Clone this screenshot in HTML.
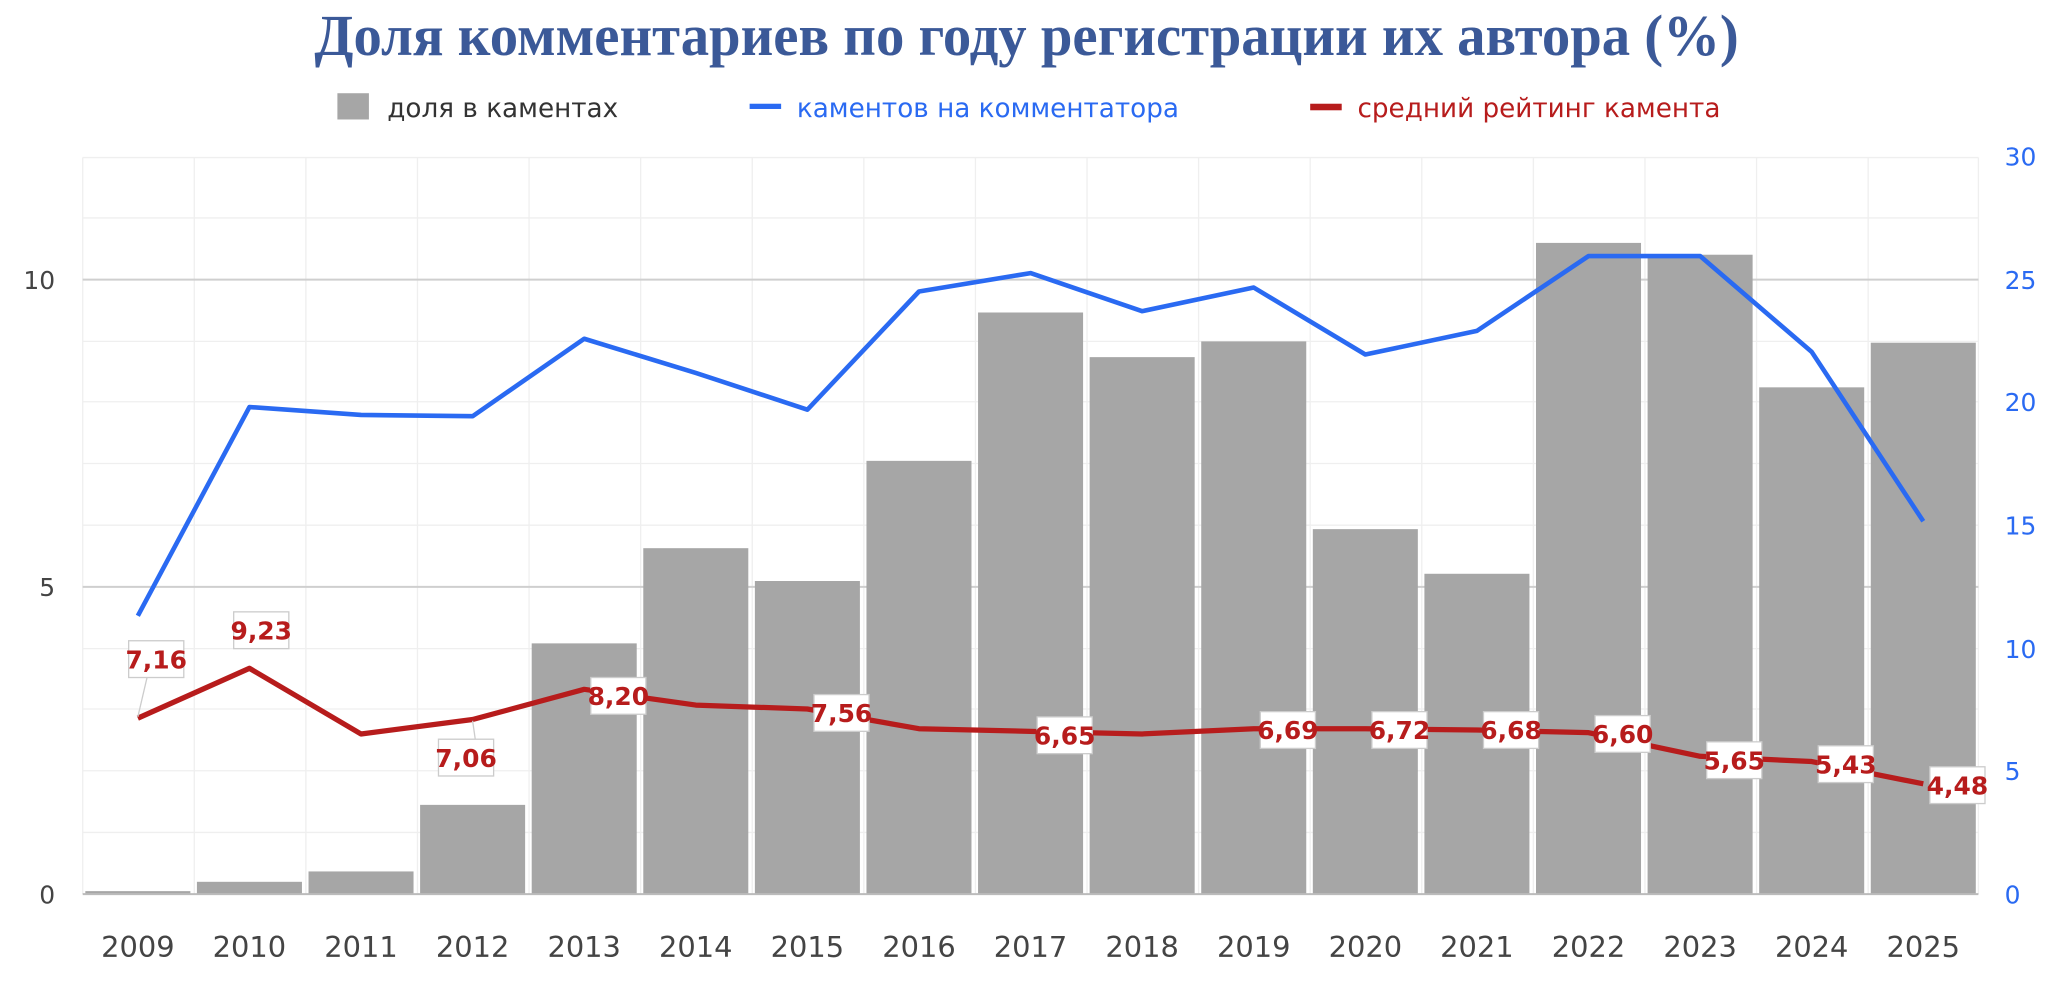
<!DOCTYPE html>
<html><head><meta charset="utf-8"><style>
html,body{margin:0;padding:0;background:#fff;}
svg{display:block;}
text{font-family:"DejaVu Sans","Liberation Sans",sans-serif;}
</style></head><body>
<svg width="2048" height="990" viewBox="0 0 1560 754" preserveAspectRatio="none" xmlns="http://www.w3.org/2000/svg">
<text x="782" y="42" text-anchor="middle" font-size="44" font-weight="bold" fill="#3b5998" textLength="1085" lengthAdjust="spacingAndGlyphs" style="font-family:'Liberation Serif',serif">Доля комментариев по году регистрации их автора (%)</text>
<rect x="257" y="71" width="24" height="20" fill="#a6a6a6"/>
<text x="295" y="89" font-size="20" fill="#333">доля в каментах</text>
<rect x="571" y="79" width="24" height="4" fill="#2a6af2"/>
<text x="607" y="89" font-size="20" fill="#2a6af2">каментов на комментатора</text>
<rect x="998" y="79" width="24" height="5" fill="#b71c1c"/>
<text x="1034" y="89" font-size="20" fill="#b71c1c">средний рейтинг камента</text>
<g stroke="#efefef" stroke-width="1">
<line x1="63" x2="1507" y1="120" y2="120"/><line x1="63" x2="1507" y1="166" y2="166"/>
<line x1="63" x2="1507" y1="260" y2="260"/><line x1="63" x2="1507" y1="306" y2="306"/>
<line x1="63" x2="1507" y1="353" y2="353"/><line x1="63" x2="1507" y1="400" y2="400"/>
<line x1="63" x2="1507" y1="494" y2="494"/><line x1="63" x2="1507" y1="540" y2="540"/>
<line x1="63" x2="1507" y1="587" y2="587"/><line x1="63" x2="1507" y1="634" y2="634"/>
<line x1="63" y1="120" x2="63" y2="681"/><line x1="148" y1="120" x2="148" y2="681"/><line x1="233" y1="120" x2="233" y2="681"/><line x1="318" y1="120" x2="318" y2="681"/><line x1="403" y1="120" x2="403" y2="681"/><line x1="488" y1="120" x2="488" y2="681"/><line x1="573" y1="120" x2="573" y2="681"/><line x1="658" y1="120" x2="658" y2="681"/><line x1="743" y1="120" x2="743" y2="681"/><line x1="828" y1="120" x2="828" y2="681"/><line x1="913" y1="120" x2="913" y2="681"/><line x1="998" y1="120" x2="998" y2="681"/><line x1="1083" y1="120" x2="1083" y2="681"/><line x1="1168" y1="120" x2="1168" y2="681"/><line x1="1253" y1="120" x2="1253" y2="681"/><line x1="1338" y1="120" x2="1338" y2="681"/><line x1="1423" y1="120" x2="1423" y2="681"/><line x1="1507" y1="120" x2="1507" y2="681"/>
</g>
<g stroke="#cfcfcf" stroke-width="1.5"><line x1="63" x2="1507" y1="213" y2="213"/><line x1="63" x2="1507" y1="447" y2="447"/></g>
<g fill="#a6a6a6">
<rect x="65" y="678.7" width="80" height="2.3"/>
<rect x="150" y="671.6" width="80" height="9.4"/>
<rect x="235" y="663.7" width="80" height="17.3"/>
<rect x="320" y="613" width="80" height="68"/>
<rect x="405" y="490" width="80" height="191"/>
<rect x="490" y="417.5" width="80" height="263.5"/>
<rect x="575" y="442.5" width="80" height="238.5"/>
<rect x="660" y="351" width="80" height="330"/>
<rect x="745" y="238" width="80" height="443"/>
<rect x="830" y="272" width="80" height="409"/>
<rect x="915" y="260" width="80" height="421"/>
<rect x="1000" y="403" width="80" height="278"/>
<rect x="1085" y="437" width="80" height="244"/>
<rect x="1170" y="185" width="80" height="496"/>
<rect x="1255" y="194" width="80" height="487"/>
<rect x="1340" y="295" width="80" height="386"/>
<rect x="1425" y="261" width="80" height="420"/>
</g>
<line x1="63" x2="1507" y1="681" y2="681" stroke="#bbb" stroke-width="1.5"/>
<polyline fill="none" stroke="#2a6af2" stroke-width="3.5" stroke-linejoin="round" points="105,469 190,310 275,316 360,317 445,258 530,284 615,312 700,222 785,208 870,237 955,219 1040,270 1125,252 1210,195 1295,195 1380,268 1465,397"/>
<polyline fill="none" stroke="#b71c1c" stroke-width="4" stroke-linejoin="round" points="105,547 190,509 275,559 360,548 445,525 530,537 615,540 700,555 785,557 870,559 955,555 1040,555 1125,556 1210,558 1295,576 1380,580 1465,597"/>
<g font-size="19" font-weight="bold" fill="#b71c1c" text-anchor="middle" style="font-family:'Liberation Sans',sans-serif">
<rect x="98" y="488" width="42" height="28" fill="#fff" stroke="#ccc"/><line x1="112" y1="516" x2="105" y2="546" stroke="#ccc"/><text x="119" y="509">7,16</text>
<rect x="178" y="466" width="42" height="28" fill="#fff" stroke="#ccc"/><text x="199" y="487">9,23</text>
<rect x="334" y="563" width="42" height="28" fill="#fff" stroke="#ccc"/><line x1="362" y1="563" x2="360" y2="549" stroke="#ccc"/><text x="355" y="584">7,06</text>
<rect x="450" y="516" width="42" height="28" fill="#fff" stroke="#ccc"/><text x="471" y="537">8,20</text>
<rect x="620" y="529" width="42" height="28" fill="#fff" stroke="#ccc"/><text x="641" y="550">7,56</text>
<rect x="790" y="546" width="42" height="28" fill="#fff" stroke="#ccc"/><text x="811" y="567">6,65</text>
<rect x="960" y="542" width="42" height="28" fill="#fff" stroke="#ccc"/><text x="981" y="563">6,69</text>
<rect x="1045" y="542" width="42" height="28" fill="#fff" stroke="#ccc"/><text x="1066" y="563">6,72</text>
<rect x="1130" y="542" width="42" height="28" fill="#fff" stroke="#ccc"/><text x="1151" y="563">6,68</text>
<rect x="1215" y="545" width="42" height="28" fill="#fff" stroke="#ccc"/><text x="1236" y="566">6,60</text>
<rect x="1300" y="565" width="42" height="28" fill="#fff" stroke="#ccc"/><text x="1321" y="586">5,65</text>
<rect x="1385" y="568" width="42" height="28" fill="#fff" stroke="#ccc"/><text x="1406" y="589">5,43</text>
<rect x="1470" y="584" width="42" height="28" fill="#fff" stroke="#ccc"/><text x="1491" y="605">4,48</text>
</g>
<g font-size="19" fill="#444" text-anchor="end">
<text x="42" y="688">0</text><text x="42" y="454">5</text><text x="42" y="220">10</text>
</g>
<g font-size="19" fill="#2a6af2" text-anchor="start">
<text x="1527" y="688">0</text><text x="1527" y="594">5</text><text x="1527" y="501">10</text><text x="1527" y="407">15</text><text x="1527" y="313">20</text><text x="1527" y="220">25</text><text x="1527" y="126">30</text>
</g>
<g font-size="22" fill="#444" text-anchor="middle">
<text x="105" y="729">2009</text><text x="190" y="729">2010</text><text x="275" y="729">2011</text><text x="360" y="729">2012</text><text x="445" y="729">2013</text><text x="530" y="729">2014</text><text x="615" y="729">2015</text><text x="700" y="729">2016</text><text x="785" y="729">2017</text><text x="870" y="729">2018</text><text x="955" y="729">2019</text><text x="1040" y="729">2020</text><text x="1125" y="729">2021</text><text x="1210" y="729">2022</text><text x="1295" y="729">2023</text><text x="1380" y="729">2024</text><text x="1465" y="729">2025</text>
</g>
</svg>
</body></html>
